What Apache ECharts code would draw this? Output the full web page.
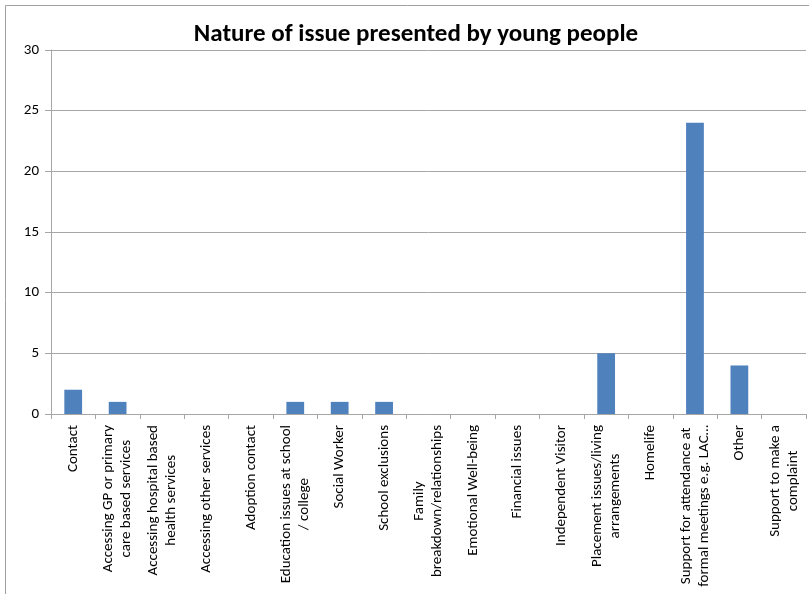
<!DOCTYPE html>
<html>
<head>
<meta charset="utf-8">
<script src="https://cdn.jsdelivr.net/npm/echarts@6/dist/echarts.min.js"></script>
<style>
  html, body { margin: 0; padding: 0; background: #ffffff; }
  #chart { width: 809px; height: 594px; }
</style>
</head>
<body>
<div id="chart"></div>
<script>
// Issue categories (line breaks as wrapped in the axis labels)
const categories = [
  'Contact',
  'Accessing GP or primary\ncare based services',
  'Accessing hospital based\nhealth services',
  'Accessing other services',
  'Adoption contact',
  'Education issues at school\n/ college',
  'Social Worker',
  'School exclusions',
  'Family\nbreakdown/relationships',
  'Emotional Well-being',
  'Financial issues',
  'Independent Visitor',
  'Placement issues/living\narrangements',
  'Homelife',
  'Support for attendance at\nformal meetings e.g. LAC…',
  'Other',
  'Support to make a\ncomplaint'
];
// Number of young people presenting each issue
const counts = [2, 1, 0, 0, 0, 1, 1, 1, 0, 0, 0, 0, 5, 0, 24, 4, 0];
const yMin = 0, yMax = 30, yStep = 5;

const chart = echarts.init(document.getElementById('chart'), null, { renderer: 'canvas' });
const font = "Carlito, Calibri, 'Open Sans', 'Liberation Sans', sans-serif";

chart.setOption({
  animation: false,
  backgroundColor: '#ffffff',
  title: {
    text: 'Nature of issue presented by young people',
    left: 411,
    top: 17,
    textAlign: 'center',
    textStyle: { fontFamily: font, fontWeight: 'bold', fontSize: 25, color: '#000000' }
  },
  graphic: [
    { type: 'line', shape: { x1: 5.5, y1: 5.5, x2: 809, y2: 5.5 }, style: { stroke: '#a0a0a0', lineWidth: 1 } },
    { type: 'line', shape: { x1: 5.5, y1: 5.5, x2: 5.5, y2: 594 }, style: { stroke: '#a0a0a0', lineWidth: 1 } }
  ],
  grid: { left: 51, right: 3, top: 50, bottom: 180, containLabel: false },
  xAxis: {
    type: 'category',
    data: categories,
    axisLine: { lineStyle: { color: '#a6a6a6' } },
    axisTick: { show: true, length: 5, lineStyle: { color: '#a6a6a6' } },
    axisLabel: {
      interval: 0,
      rotate: 90,
      margin: 11,
      color: '#000000',
      fontFamily: font,
      fontSize: 15,
      lineHeight: 18,
      formatter: function (v) {
        return v.split('\n').map(function (s) { return '{c|' + s + '}'; }).join('\n');
      },
      rich: { c: { align: 'center', fontFamily: font, fontSize: 15, lineHeight: 18, color: '#000000' } }
    }
  },
  yAxis: {
    type: 'value',
    min: yMin,
    max: yMax,
    interval: yStep,
    axisLine: { show: true, lineStyle: { color: '#a6a6a6' } },
    axisTick: { show: true, inside: false, length: 6, lineStyle: { color: '#a6a6a6' } },
    axisLabel: { color: '#000000', fontFamily: font, fontSize: 15, margin: 12 },
    splitLine: { show: true, lineStyle: { color: '#a6a6a6', width: 1 } }
  },
  series: [{
    type: 'bar',
    data: counts,
    barWidth: '40%',
    itemStyle: { color: '#4f81bd', borderWidth: 0 }
  }]
});
</script>
</body>
</html>
